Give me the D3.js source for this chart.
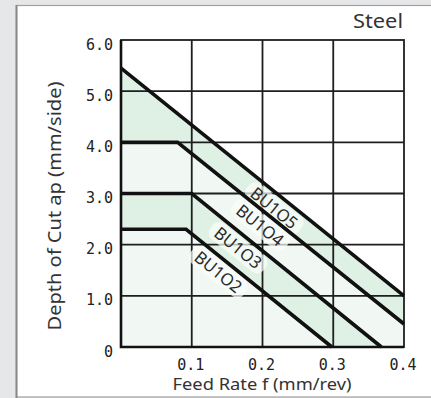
<!DOCTYPE html>
<html>
<head>
<meta charset="utf-8">
<script src="https://cdn.jsdelivr.net/npm/d3@7"></script>
<style>
  html, body { margin: 0; padding: 0; background: #e6e7e9; }
  svg { display: block; }
</style>
</head>
<body>
<svg id="chart" width="431" height="398"></svg>
<script>
// Recommended cutting range for steel: depth of cut vs feed rate per chipbreaker
const feedTicks = [0.1, 0.2, 0.3, 0.4];
const feedTickLabels = ["0.1", "0.2", "0.3", "0.4"];
const depthTicks = [0, 1, 2, 3, 4, 5, 6];
const depthTickLabels = ["0", "1.0", "2.0", "3.0", "4.0", "5.0", "6.0"];

// Upper limit of each range, as [feed (mm/rev), depth (mm/side)] points
const bu1o5 = [[0, 5.45], [0.4, 1.0]];
const bu1o4 = [[0, 4.0], [0.08, 4.0], [0.4, 0.45]];
const bu1o3 = [[0, 3.0], [0.1, 3.0], [0.368, 0]];
const bu1o2 = [[0, 2.3], [0.092, 2.3], [0.298, 0]];

const seriesNames = ["BU1O5", "BU1O4", "BU1O3", "BU1O2"];
// Feed value on each limit line where its label is anchored
const labelFeed = [0.228, 0.208, 0.177, 0.149];

const svg = d3.select("#chart");
const W = 431;
const green = "#dff0e5", pale = "#f1f8f3";

// Panel
svg.append("rect")
  .attr("x", 16.5).attr("y", 5.5).attr("width", W).attr("height", 391.5)
  .attr("fill", "#fff").attr("stroke", "#a0a0a0").attr("stroke-width", 1.2);
svg.append("line").attr("x1", 16.5).attr("x2", 16.5).attr("y1", 5).attr("y2", 398)
  .attr("stroke", "#888").attr("stroke-width", 2);

const x = d3.scaleLinear().domain([0, 0.4]).range([121, 404]);
const y = d3.scaleLinear().domain([0, 6]).range([347, 40]);
const xMax = 0.4;

// Extend a limit line along the feed axis so bands close at the right edge
const ext = pts => pts[pts.length - 1][1] === 0 ? pts.concat([[xMax, 0]]) : pts;
const base = [[0, 0], [xMax, 0]];
const bandPoly = (upper, lower) => ext(upper).concat(ext(lower).slice().reverse());
const toPath = d3.line().x(d => x(d[0])).y(d => y(d[1]));

const bands = [
  { upper: bu1o5, lower: bu1o4, fill: green },
  { upper: bu1o4, lower: bu1o3, fill: pale },
  { upper: bu1o3, lower: bu1o2, fill: green },
  { upper: bu1o2, lower: base, fill: pale }
];
svg.append("g").selectAll("path").data(bands).join("path")
  .attr("d", d => toPath(bandPoly(d.upper, d.lower)) + "Z")
  .attr("fill", d => d.fill);

// Grid
const grid = svg.append("g").attr("stroke", "#1e1e1e").attr("stroke-width", 1.8);
grid.selectAll("line.v").data(feedTicks.slice(0, -1)).join("line").attr("class", "v")
  .attr("x1", d => x(d)).attr("x2", d => x(d)).attr("y1", y(0)).attr("y2", y(6));
grid.selectAll("line.h").data(depthTicks.slice(1, -1)).join("line").attr("class", "h")
  .attr("x1", x(0)).attr("x2", x(xMax)).attr("y1", d => y(d)).attr("y2", d => y(d));
svg.append("rect")
  .attr("x", x(0)).attr("y", y(6)).attr("width", x(xMax) - x(0)).attr("height", y(0) - y(6))
  .attr("fill", "none").attr("stroke", "#1e1e1e").attr("stroke-width", 1.8);
svg.append("path")
  .attr("d", `M${x(0)},${y(6)}V${y(0)}H${x(xMax)}`)
  .attr("fill", "none").attr("stroke", "#111").attr("stroke-width", 2.6);

// Label angle follows the slope of the limit lines
const limits = [bu1o5, bu1o4, bu1o3, bu1o2];
const seg = bu1o5;
const ang = Math.atan2(y(seg[1][1]) - y(seg[0][1]), x(seg[1][0]) - x(seg[0][0])) * 180 / Math.PI;

function depthAt(pts, f) {
  for (let i = 1; i < pts.length; i++) {
    const [x0, y0] = pts[i - 1], [x1, y1] = pts[i];
    if (f >= x0 && f <= x1) return y0 + (y1 - y0) * (f - x0) / (x1 - x0);
  }
  return pts[pts.length - 1][1];
}
const labelOffset = 13; // px below the line, perpendicular
const rad = ang * Math.PI / 180;
const labels = seriesNames.map((name, i) => {
  const f = labelFeed[i];
  const px = x(f), py = y(depthAt(limits[i], f));
  return { name, cx: px - Math.sin(rad) * labelOffset, cy: py + Math.cos(rad) * labelOffset };
});

// Soft light halos behind labels
const lab = svg.append("g");
lab.selectAll("rect").data(labels).join("rect")
  .attr("transform", d => `translate(${d.cx},${d.cy}) rotate(${ang})`)
  .attr("x", -34).attr("y", -10).attr("width", 68).attr("height", 20).attr("rx", 8)
  .attr("fill", "#fbfdfb").attr("opacity", 0.7);

// Limit lines
svg.append("g").selectAll("path").data(limits).join("path")
  .attr("d", d => toPath(d))
  .attr("fill", "none").attr("stroke", "#111").attr("stroke-width", 3.6)
  .attr("stroke-linejoin", "miter");

lab.selectAll("text").data(labels).join("text")
  .attr("transform", d => `translate(${d.cx},${d.cy}) rotate(${ang})`)
  .attr("text-anchor", "middle").attr("dy", "0.36em")
  .attr("font-family", "Noto Sans, sans-serif").attr("font-size", 17)
  .attr("textLength", 55).attr("lengthAdjust", "spacingAndGlyphs")
  .attr("fill", "#2a2a2a")
  .text(d => d.name);

// Tick labels
const tickFont = "DejaVu Sans Mono, monospace";
svg.append("g").selectAll("text").data(depthTicks).join("text")
  .attr("x", 113).attr("y", d => y(d) + 9.5)
  .attr("text-anchor", "end").attr("font-family", tickFont).attr("font-size", 15)
  .attr("fill", "#222")
  .text((d, i) => depthTickLabels[i]);
svg.append("g").selectAll("text").data(feedTicks).join("text")
  .attr("x", d => x(d) - 1).attr("y", 370)
  .attr("text-anchor", "middle").attr("font-family", tickFont).attr("font-size", 15)
  .attr("fill", "#222")
  .text((d, i) => feedTickLabels[i]);

// Titles
const titleFont = "Noto Sans, sans-serif";
svg.append("text")
  .attr("x", 262).attr("y", 390).attr("text-anchor", "middle")
  .attr("font-family", titleFont).attr("font-size", 16).attr("fill", "#333")
  .attr("textLength", 179).attr("lengthAdjust", "spacingAndGlyphs")
  .text("Feed Rate f (mm/rev)");
svg.append("text")
  .attr("transform", "translate(61,206) rotate(-90)").attr("text-anchor", "middle")
  .attr("font-family", titleFont).attr("font-size", 17.5).attr("fill", "#333")
  .attr("textLength", 249).attr("lengthAdjust", "spacingAndGlyphs")
  .text("Depth of Cut ap (mm/side)");
svg.append("text")
  .attr("x", 403).attr("y", 28).attr("text-anchor", "end")
  .attr("font-family", titleFont).attr("font-size", 20).attr("fill", "#333")
  .attr("textLength", 50).attr("lengthAdjust", "spacingAndGlyphs")
  .text("Steel");
</script>
</body>
</html>
